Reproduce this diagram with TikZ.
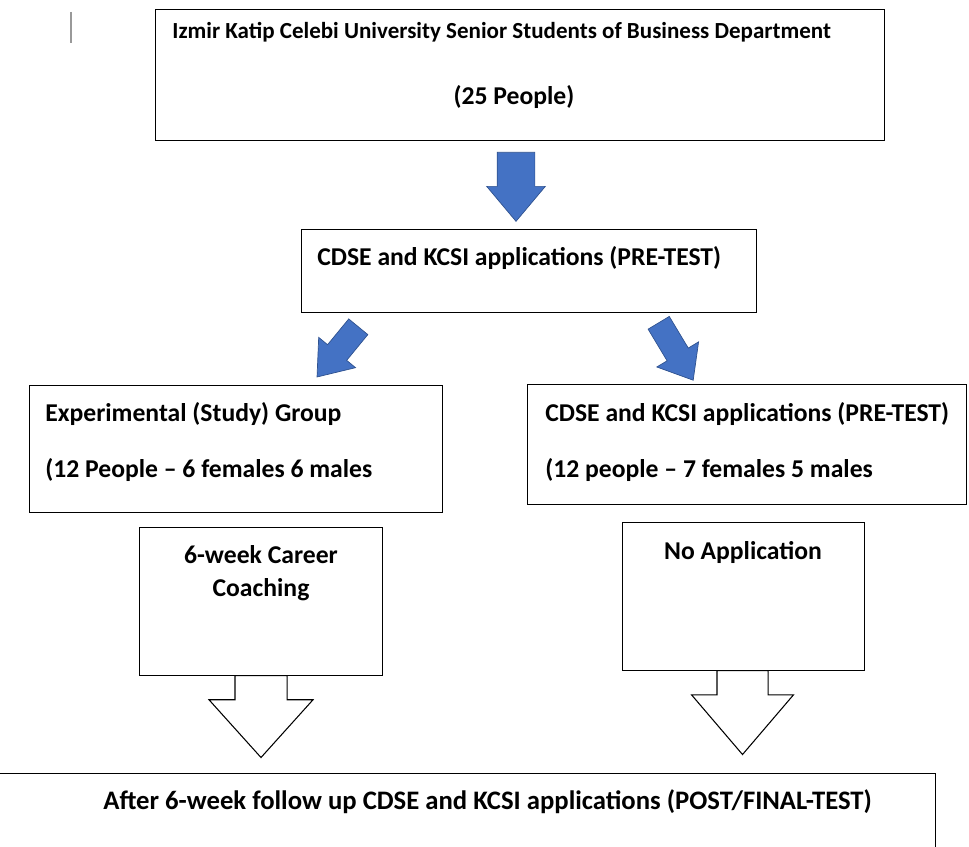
\documentclass[tikz,border=0pt]{standalone}
\usepackage{fontspec}
\setmainfont{Carlito}
\usepackage{xcolor}
\usetikzlibrary{shapes.arrows}
\definecolor{ArrowBlue}{RGB}{68,114,196}
\definecolor{ArrowEdge}{RGB}{47,82,143}

\begin{document}
\begin{tikzpicture}[
  x=0.02cm, y=-0.02cm,
  box/.style={draw=black, line width=0.8pt, fill=white, anchor=north west,
              inner sep=0pt},
  txt/.style={font=\fontsize{14.6}{18.7}\selectfont\bfseries, inner sep=0pt,
              anchor=west},
  toptxt/.style={font=\fontsize{13.1}{15}\selectfont\bfseries, inner sep=0pt,
                 anchor=west},
  posttxt/.style={font=\fontsize{15.2}{18}\selectfont\bfseries, inner sep=0pt,
                  anchor=west},
  bluearrow/.style={single arrow, draw=ArrowEdge, fill=ArrowBlue,
                    line width=0.4pt, inner xsep=0pt, anchor=tail,
                    single arrow head indent=0pt},
  openarrow/.style={single arrow, draw=black, fill=white,
                    line width=0.6pt, inner xsep=0pt, anchor=tail,
                    single arrow head indent=0pt},
]
\useasboundingbox (0,0) rectangle (969,847);
\clip (0,0) rectangle (969,847);

% stray mark
\draw[gray!80, line width=0.6pt] (71,12) -- (71,43);

% boxes
\node[box, minimum width=14.58cm, minimum height=2.62cm] (univ) at (155,9) {};
\node[box, minimum width=9.10cm, minimum height=1.66cm] (pre) at (301,229) {};
\node[box, minimum width=8.26cm, minimum height=2.54cm] (exp) at (29,385) {};
\node[box, minimum width=8.78cm, minimum height=2.40cm] (ctrl) at (527,384) {};
\node[box, minimum width=4.86cm, minimum height=2.96cm] (coach) at (139,527) {};
\node[box, minimum width=4.84cm, minimum height=2.96cm] (noapp) at (622,522) {};
\node[box, minimum width=19.10cm, minimum height=2.2cm] (post) at (-20,773) {};

% texts
\node[toptxt] (univtxt) at (172,32)
  {Izmir Katip Celebi University Senior Students of Business Department};
\node[txt, anchor=center] (univnum) at (514,97) {(25 People)};
\node[txt] (pretxt) at (317,258) {CDSE and KCSI applications (PRE-TEST)};
\node[txt] (exptxt) at (45,414) {Experimental (Study) Group};
\node[txt] (expnum) at (45,470) {(12 People – 6 females 6 males};
\node[txt] (ctrltxt) at (545,414) {CDSE and KCSI applications (PRE-TEST)};
\node[txt] (ctrlnum) at (545,470) {(12 people – 7 females 5 males};
\node[txt, anchor=center, align=center] (coachtxt) at (261,573.5)
  {6-week Career\\Coaching};
\node[txt, anchor=center] (noapptxt) at (743,552) {No Application};
\node[posttxt] (posttxt) at (103,802)
  {After 6-week follow up CDSE and KCSI applications (POST/FINAL-TEST)};

% block arrows
\node[bluearrow, minimum height=1.38cm, inner ysep=0.37cm,
      single arrow head extend=0.21cm, single arrow tip angle=80,
      rotate=-90] (down) at (516,152) {};
\node[bluearrow, minimum height=1.30cm, inner ysep=0.24cm,
      single arrow head extend=0.23cm, single arrow tip angle=74,
      rotate=-129.4] (toexp) at (358.5,326.5) {};
\node[bluearrow, minimum height=1.34cm, inner ysep=0.24cm,
      single arrow head extend=0.24cm, single arrow tip angle=78,
      rotate=-59] (toctrl) at (658.5,322.5) {};
\node[openarrow, minimum height=1.64cm, inner ysep=0.51cm,
      single arrow head extend=0.52cm, single arrow tip angle=84,
      rotate=-90] (coachout) at (261,675) {};
\node[openarrow, minimum height=1.68cm, inner ysep=0.50cm,
      single arrow head extend=0.51cm, single arrow tip angle=81,
      rotate=-90] (noappout) at (742.5,670) {};
\end{tikzpicture}
\end{document}
